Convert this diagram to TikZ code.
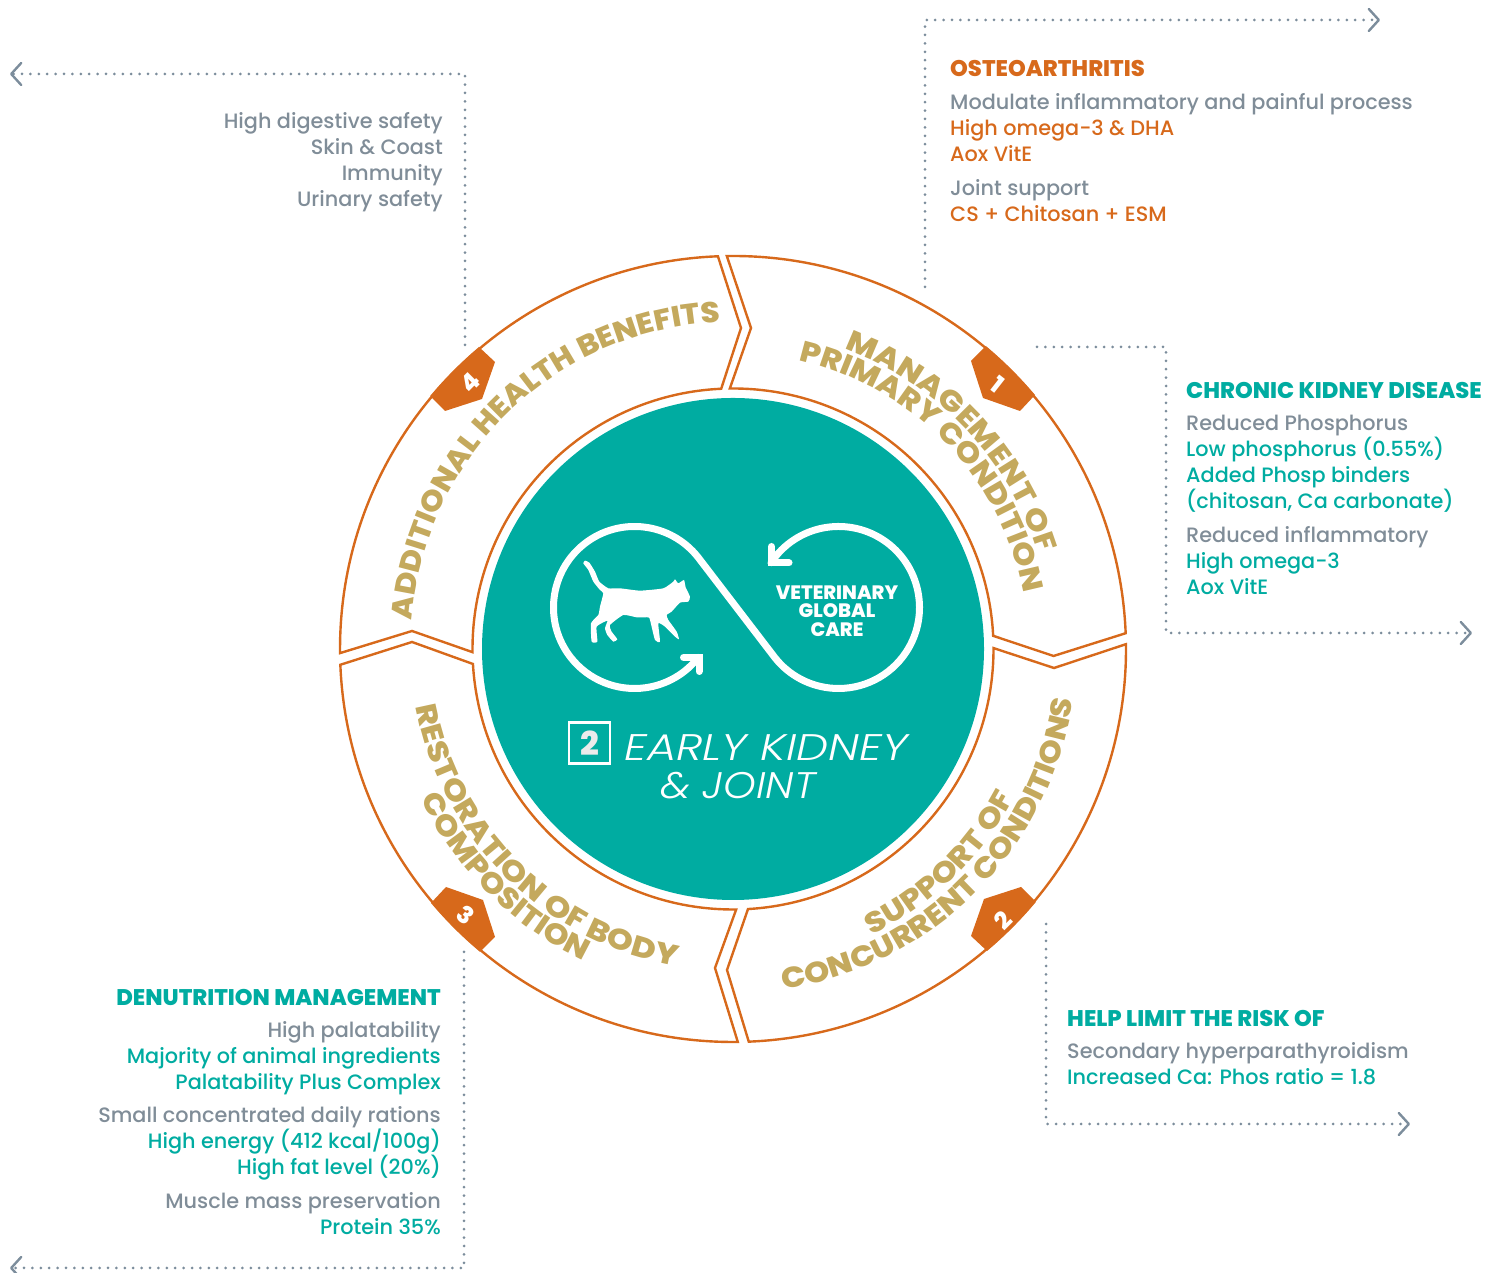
\documentclass[tikz,border=0pt]{standalone}
\usepackage{fontspec}
\setmainfont{Poppins Medium}
\newfontfamily\heavyfont{Poppins ExtraBold}
\newfontfamily\lightfont{Poppins}[UprightFont=* Light, ItalicFont=* Light Italic]
\usetikzlibrary{arrows.meta,calc,decorations.text,positioning}

\definecolor{tealfill}{HTML}{00ACA1}
\definecolor{ringorange}{HTML}{D7691B}
\definecolor{goldtxt}{HTML}{C4A95D}
\definecolor{greytxt}{HTML}{808D98}
\definecolor{dotgrey}{HTML}{7C8D9C}

\newcommand{\curvefont}{\fontsize{29}{29}\selectfont\heavyfont}
\newcommand{\gline}[1]{\textcolor{greytxt}{#1}}
\newcommand{\tline}[1]{\textcolor{tealfill}{#1}}
\newcommand{\oline}[1]{\textcolor{ringorange}{#1}}
\newcommand{\hdfont}{\fontsize{22.6}{26}\selectfont\heavyfont}

\tikzset{
  ring/.style={draw=ringorange,line width=2.4pt,line join=miter},
  dotline/.style={draw=dotgrey,line width=3pt,line cap=round,dash pattern=on 0pt off 8.4pt,
    -{Straight Barb[length=10pt,width=22pt,line width=2.4pt,round]}},
  blocktxt/.style={inner sep=0pt,font=\fontsize{20.8}{26}\selectfont},
  loopline/.style={draw=white,line width=7pt,line cap=round},
  curved/.style 2 args={decorate,decoration={text along path,text align=center,text color=goldtxt,
    text={|\curvefont\addfontfeature{FakeStretch=#1}|#2}}}
}

\begin{document}
\begin{tikzpicture}[x=1pt,y=1pt]
\useasboundingbox (0,0) rectangle (1488,1273);

% wheel
\begin{scope}[shift={(733,624)}]
  \fill[tealfill] (0,0) circle (251);
  \draw[ring] (90.9:393) arc (90.9:2.3:393) -- (320.5,-7) -- (2.9:260.5) arc (2.9:90.7:260.5) -- (18,321) -- cycle;
  \draw[ring] (0.7:393) arc (0.7:-87.7:393) -- (-6,-321) -- (-86.7:260.5) arc (-86.7:0.2:260.5) -- (321,-19) -- cycle;
  \draw[ring] (270.7:393) arc (270.7:182.3:393) -- (-321,7) -- (183.3:260.5) arc (183.3:270.7:260.5) -- (-18,-319) -- cycle;
  \draw[ring] (92.2:393) arc (92.2:180.6:393) -- (-321,18) -- (180.7:260.5) arc (180.7:92.6:260.5) -- (8,321) -- cycle;

  \foreach \turn/\nr/\nx/\ny/\tilt in {0/1/265/265/-38,-90/2/270/-271/45,180/3/-267/-266/-38,90/4/-263/266/45} {
    \fill[ringorange,rotate=\turn] (253,303) -- (238,288) -- (250,251) -- (287,238) -- (302,254) arc (40.06:50.1:394.6) -- cycle;
    \node[text=white,font=\fontsize{24}{24}\selectfont\heavyfont,rotate=\tilt,inner sep=0pt] (badge\nr) at (\nx,\ny) {\nr};
  }

  \path[curved={1.13}{MANAGEMENT OF}] (113.5:320) arc (113.5:-26.5:320);
  \path[curved={1.11}{PRIMARY CONDITION}] (114:296) arc (114:-26:296);
  \path[curved={1.12}{SUPPORT OF}] (-115:318) arc (-115:23:318);
  \path[curved={1.11}{CONCURRENT CONDITIONS}] (-115:344) arc (-115:25:344);
  \path[curved={1.15}{RESTORATION OF BODY}] (155:322) arc (155:295:322);
  \path[curved={1.11}{COMPOSITION}] (155:346) arc (155:295:346);
  \path[curved={1.07}{ADDITIONAL HEALTH BENEFITS},shift={(0,5)}] (204:322) arc (204:64:322);
\end{scope}

% care loop
\coordinate (loopL) at (634.5,665.5);
\coordinate (loopR) at (838.5,665.5);
\draw[loopline] ($(loopR)+(146.4:81)$) arc (146.4:-142:81) -- ($(loopL)+(38:81)$) arc (38:322:81);
\draw[loopline] (683.5,615.5) -- (699,615.5) -- (699,601.5);
\draw[loopline] (771.5,726.5) -- (771.5,710) -- (789,710);
\begin{scope}[shift={(520,773)},x=0.3333pt,y=-0.3333pt]
  \fill[white] plot[smooth cycle,tension=0.3] coordinates {
    (195,182) (208,188) (225,215) (238,245) (265,265) (300,265) (360,272) (430,265) (460,245) (465,238)
    (475,250) (492,240) (497,262) (510,290) (505,305) (480,308) (455,335) (440,345) (445,360) (470,395)
    (477,418) (465,410) (435,380) (415,370) (420,425) (405,420) (390,360) (385,352) (350,352) (310,345)
    (270,375) (275,395) (292,418) (280,425) (262,405) (255,385) (262,362) (230,380) (232,425) (215,425)
    (213,370) (235,345) (240,320) (250,280) (240,270) (220,245) (205,210) (190,190)};
\end{scope}
\node[text=white,align=center,font=\fontsize{19.4}{18.5}\selectfont\heavyfont,inner sep=0pt] (vetcare) at (837,662) {VETERINARY\\GLOBAL\\CARE};

\node[draw=white,line width=2.4pt,minimum size=41pt,inner sep=0pt,text=white!92!black,font=\fontsize{33}{33}\selectfont\heavyfont] (numbox) at (589.5,530) {2};
\node[text=white,font=\fontsize{37}{37}\selectfont\lightfont\itshape\addfontfeature{FakeStretch=1.22},inner sep=0pt] (early) at (766,525) {EARLY KIDNEY};
\node[text=white,font=\fontsize{37}{37}\selectfont\lightfont\itshape\addfontfeature{FakeStretch=1.12},inner sep=0pt] (joint) at (738,487.5) {\&~JOINT};

% text blocks
\node[blocktxt,anchor=north east,align=right] (benefits) at (443,1161) {\gline{High digestive safety}\\\gline{Skin \& Coast}\\\gline{Immunity}\\\gline{Urinary safety}};
\node[blocktxt,anchor=north west,align=left] (osteo) at (950,1213) {\oline{\hdfont OSTEOARTHRITIS}\\[7.5pt]\gline{Modulate inflammatory and painful process}\\\oline{High omega-3 \& DHA}\\\oline{Aox VitE}\\[7.5pt]\gline{Joint support}\\\oline{CS + Chitosan + ESM}};
\node[blocktxt,anchor=north west,align=left] (ckd) at (1186,891) {\tline{\hdfont CHRONIC KIDNEY DISEASE}\\[6.5pt]\gline{Reduced Phosphorus}\\\tline{Low phosphorus (0.55\%)}\\\tline{Added Phosp binders}\\\tline{(chitosan, Ca carbonate)}\\[7.5pt]\gline{Reduced inflammatory}\\\tline{High omega-3}\\\tline{Aox VitE}};
\node[blocktxt,anchor=north west,align=left] (risk) at (1067,263) {\tline{\hdfont HELP LIMIT THE RISK OF}\\[6.5pt]\gline{Secondary hyperparathyroidism}\\\tline{Increased Ca: Phos ratio = 1.8}};
\node[blocktxt,anchor=north east,align=right] (denut) at (441,284) {\tline{\hdfont DENUTRITION MANAGEMENT}\\[6.5pt]\gline{High palatability}\\\tline{Majority of animal ingredients}\\\tline{Palatability Plus Complex}\\[6.5pt]\gline{Small concentrated daily rations}\\\tline{High energy (412 kcal/100g)}\\\tline{High fat level (20\%)}\\[8.5pt]\gline{Muscle mass preservation}\\\tline{Protein 35\%}};

% dotted leaders
\coordinate (osteoA) at (925,986);
\coordinate (osteoB) at (925,1253);
\coordinate (osteoC) at (1380,1253);
\coordinate (ckdA) at (1037,926);
\coordinate (ckdB) at (1166,926);
\coordinate (ckdC) at (1166,640);
\coordinate (ckdD) at (1472,640);
\coordinate (riskA) at (1046,349);
\coordinate (riskB) at (1046,149);
\coordinate (riskC) at (1410,149);
\coordinate (benA) at (465,928);
\coordinate (benB) at (465,1199);
\coordinate (benC) at (10,1199);
\coordinate (denA) at (464,321);
\coordinate (denB) at (464,5);
\coordinate (denC) at (10,5);
\draw[dotline] (osteoA) -- (osteoB) -- (osteoC);
\draw[dotline] (ckdA) -- (ckdB) -- (ckdC) -- (ckdD);
\draw[dotline] (riskA) -- (riskB) -- (riskC);
\draw[dotline] (benA) -- (benB) -- (benC);
\draw[dotline] (denA) -- (denB) -- (denC);
\end{tikzpicture}
\end{document}
